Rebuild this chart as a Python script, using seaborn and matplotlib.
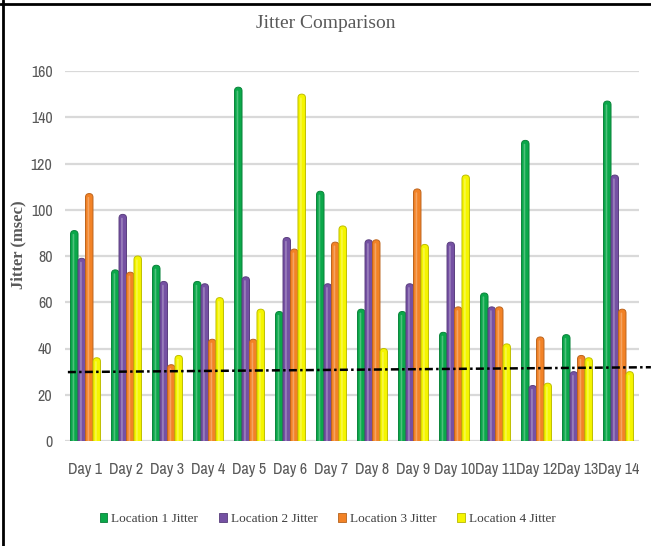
import matplotlib
matplotlib.use("Agg")
import matplotlib.pyplot as plt
import numpy as np
import pandas as pd
import seaborn as sns
from matplotlib import font_manager, colors as mcolors
from matplotlib.patches import FancyBboxPatch, Patch
from matplotlib.lines import Line2D

# ---- data ----
days = [f"Day {i}" for i in range(1, 15)]
series_names = ["Location 1 Jitter", "Location 2 Jitter",
                "Location 3 Jitter", "Location 4 Jitter"]
loc1_jitter = [91, 74, 76, 69, 153, 56, 108, 57, 56, 47, 64, 130, 46, 147]
loc2_jitter = [79, 98, 69, 68, 71, 88, 68, 87, 68, 86, 58, 24, 30, 115]
loc3_jitter = [107, 73, 33, 44, 44, 83, 86, 87, 109, 58, 58, 45, 37, 57]
loc4_jitter = [36, 80, 37, 62, 57, 150, 93, 40, 85, 115, 42, 25, 36, 30]
trend_start, trend_end = 29.8, 31.9
y_ticks = [0, 20, 40, 60, 80, 100, 120, 140, 160]

palette = ["#0BA84A", "#7551A3", "#F28226", "#F5F500"]

df = pd.DataFrame({
    "Day": days * 4,
    "Series": np.repeat(series_names, len(days)),
    "Jitter": loc1_jitter + loc2_jitter + loc3_jitter + loc4_jitter,
})

sns.set_theme(style="white")

# pick a condensed sans face for tick labels when one is installed
fonts = font_manager.fontManager.ttflist
tick_font = {"family": "Liberation Sans", "stretch": "normal"}
for f in fonts:
    if ("Narrow" in f.name or "Condensed" in f.name) and "Serif" not in f.name:
        tick_font = {"family": f.name, "stretch": "normal"}
        break
else:
    for f in fonts:
        if str(f.stretch) in ("condensed", "semi-condensed", "75", "87") and "Serif" not in f.name:
            tick_font = {"family": f.name, "stretch": str(f.stretch)}
            break
serif = "Liberation Serif"
plt.rcParams["font.family"] = [tick_font["family"], "DejaVu Sans"]

W, H = 651, 546
fig = plt.figure(figsize=(W / 100, H / 100), dpi=100)
ax_l, ax_w = 65, 574
ax_bot, ax_h = 441, 370
ax = fig.add_axes([ax_l / W, (H - ax_bot) / H, ax_w / W, ax_h / H])

sns.barplot(data=df, x="Day", y="Jitter", hue="Series", order=days,
            hue_order=series_names, palette=palette, width=0.73, gap=0,
            saturation=1, legend=False, ax=ax)

ax.set_xlim(-0.5, len(days) - 0.5)
ax.set_ylim(0, 160)

# rounded, cylinder-like bars
aspect = (160 / ax_h) / (len(days) / ax_w)
for p in list(ax.patches):
    x, w, h = p.get_x(), p.get_width(), p.get_height()
    fc = np.array(mcolors.to_rgb(p.get_facecolor()))
    p.remove()
    r = w / 2
    body = FancyBboxPatch((x, -6), w, h + 6,
                          boxstyle=f"round,pad=0,rounding_size={r}",
                          mutation_aspect=aspect, fc=fc, ec=fc * 0.78,
                          lw=0.7, zorder=3)
    ax.add_patch(body)
    hw = w * 0.22
    hi = FancyBboxPatch((x + w * 0.28, -6), hw, h + 6 - r * aspect * 0.9,
                        boxstyle=f"round,pad=0,rounding_size={hw / 2}",
                        mutation_aspect=aspect, fc="white", ec="none",
                        alpha=0.28, zorder=4)
    ax.add_patch(hi)

# dash-dot reference line running past the plot area
ax.plot([-0.43, 13.79], [trend_start, trend_end], color="black", lw=1.8,
        ls=(0, (3.2, 1.3, 1.0, 1.3)), clip_on=False, zorder=6)

ax.set_yticks(y_ticks)
ax.yaxis.grid(True, color="#D9D9D9", lw=1.6)
ax.xaxis.grid(False)
ax.set_axisbelow(True)
for s in ax.spines.values():
    s.set_visible(False)
ax.tick_params(axis="y", length=0, pad=9, labelcolor="#595959")
ax.tick_params(axis="x", length=0, pad=15, labelcolor="#595959")
for lab in ax.get_xticklabels() + ax.get_yticklabels():
    lab.set_fontfamily([tick_font["family"], "DejaVu Sans"])
    lab.set_fontstretch(tick_font["stretch"])
    lab.set_fontsize(11.5)
ax.set_xlabel("")
ax.set_ylabel("Jitter (msec)", family=serif, fontweight="bold",
              fontsize=12, color="#595959")
ax.yaxis.set_label_coords((26 - ax_l) / ax_w, 0.53)

fig.text(0.5, 1 - 24 / H, "Jitter Comparison", family=serif, fontsize=14,
         color="#595959", ha="center", va="center")

handles = [Patch(facecolor=c, edgecolor=mcolors.to_hex(np.array(mcolors.to_rgb(c)) * 0.75),
                 lw=0.6) for c in palette]
fig.legend(handles, series_names, loc="center",
           bbox_to_anchor=(0.503, 1 - 519 / H), ncol=4, frameon=False,
           prop={"family": serif, "size": 9.5}, labelcolor="#404040",
           handlelength=0.6, handleheight=0.75, handletextpad=0.3,
           columnspacing=1.55)

# frame lines along the top and left edges
fig.add_artist(Line2D([0, 1], [1 - 4 / H] * 2, transform=fig.transFigure,
                      color="black", lw=2))
fig.add_artist(Line2D([3 / W] * 2, [0, 1], transform=fig.transFigure,
                      color="black", lw=2))

fig.savefig("out.png", dpi=100)
